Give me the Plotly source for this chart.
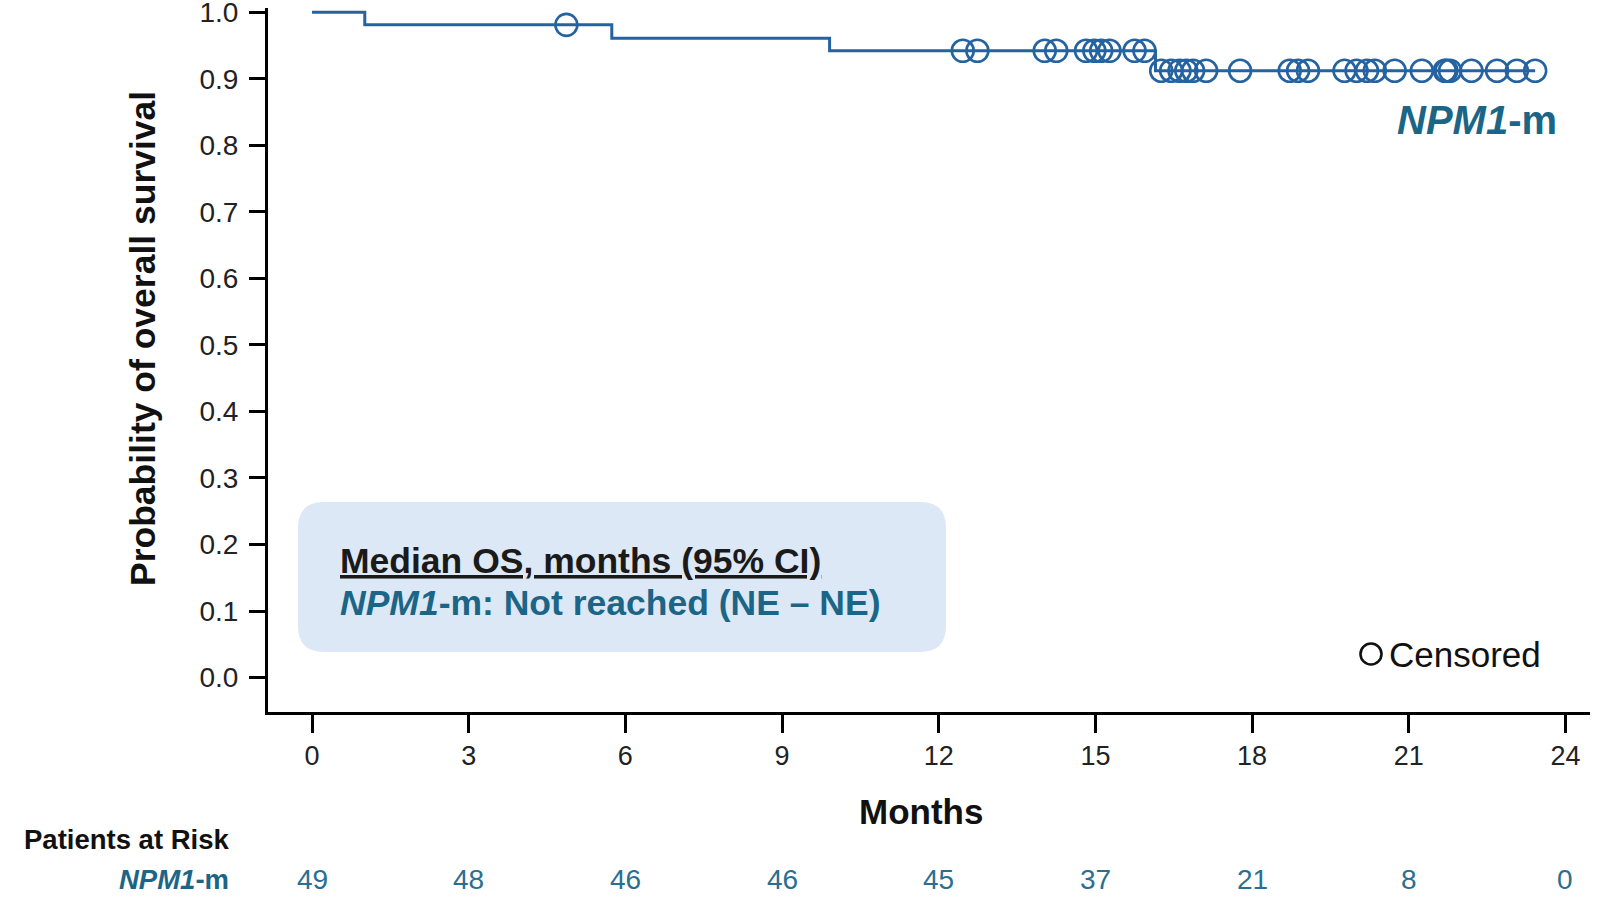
import numpy as np
import plotly.graph_objects as go

# Kaplan-Meier data
event_times = [1.01, 5.74, 9.91, 16.15]
surv_after = [0.981, 0.961, 0.942, 0.912]
censor_times = [4.87, 12.46, 12.74, 14.03, 14.25, 14.82, 14.98, 15.11, 15.27,
                15.75, 15.94, 16.26, 16.45, 16.61, 16.74, 16.87, 17.12, 17.77,
                18.72, 18.88, 19.07, 19.77, 20.00, 20.20, 20.35, 20.73, 21.25,
                21.69, 21.72, 21.79, 22.20, 22.69, 23.07, 23.42]
month_ticks = [0, 3, 6, 9, 12, 15, 18, 21, 24]
at_risk = [49, 48, 46, 46, 45, 37, 21, 8, 0]
y_ticks = [0.0, 0.1, 0.2, 0.3, 0.4, 0.5, 0.6, 0.7, 0.8, 0.9, 1.0]

BLUE = "#2563a0"
TEAL = "#1b6586"
FONT = "Liberation Sans"

# step curve
step_x = [0] + event_times + [censor_times[-1]]
step_y = [1.0] + surv_after + [surv_after[-1]]


def surv_at(t):
    idx = np.searchsorted(event_times, t, side="right")
    return 1.0 if idx == 0 else surv_after[idx - 1]


censor_y = [surv_at(t) for t in censor_times]

# page geometry in pixels (body margin is zeroed below)
W, H = 1600, 900
L, R, T, B = 268, 10, 8, 900 - 712
PH = H - T - B
PW = W - L - R


def px(x):
    return (x - L) / PW


def py(y):
    return (H - B - y) / PH


fig = go.Figure()
fig.add_trace(go.Scatter(x=step_x, y=step_y, mode="lines", line_shape="hv",
                         line=dict(color=BLUE, width=3), hoverinfo="skip"))
fig.add_trace(go.Scatter(x=censor_times, y=censor_y, mode="markers",
                         marker=dict(symbol="circle-open", size=22, color=BLUE,
                                     line=dict(width=2.6, color=BLUE))))

# rounded median box
bx0, bx1, by0, by1, r = 298, 946, 502, 652, 26
rx, ry = r / PW, r / PH
X0, X1, Y0, Y1 = px(bx0), px(bx1), py(by1), py(by0)
box_path = (f"M {X0 + rx} {Y0} L {X1 - rx} {Y0} Q {X1} {Y0} {X1} {Y0 + ry} "
            f"L {X1} {Y1 - ry} Q {X1} {Y1} {X1 - rx} {Y1} L {X0 + rx} {Y1} "
            f"Q {X0} {Y1} {X0} {Y1 - ry} L {X0} {Y0 + ry} Q {X0} {Y0} {X0 + rx} {Y0} Z")

shapes = [
    dict(type="path", xref="paper", yref="paper", path=box_path,
         fillcolor="#dce8f5", line=dict(width=0), layer="below"),
    dict(type="circle", xref="paper", yref="paper", xsizemode="pixel", ysizemode="pixel",
         xanchor=px(1371), yanchor=py(654), x0=-10.5, x1=10.5, y0=-10.5, y1=10.5,
         line=dict(color="#111111", width=2.6)),
]

annotations = [
    dict(text="<b>Probability of overall survival</b>", x=px(143), y=py(339),
         textangle=-90, font=dict(size=35.5, color="#111111")),
    dict(text="<b>Months</b>", x=px(921), y=py(811), font=dict(size=35, color="#111111")),
    dict(text="<b><i>NPM1</i>-m</b>", x=px(1559), y=py(120), xanchor="right",
         font=dict(size=40, color=TEAL)),
    dict(text="Censored", x=px(1387), y=py(654), xanchor="left",
         font=dict(size=35, color="#111111")),
    dict(text="<b><u>Median OS, months (95% CI)</u></b>", x=px(338), y=py(561),
         xanchor="left", font=dict(size=35.5, color="#1a1a1a")),
    dict(text="<b><i>NPM1</i>-m: Not reached (NE – NE)</b>", x=px(338), y=py(603),
         xanchor="left", font=dict(size=35.5, color=TEAL)),
    dict(text="<b>Patients at Risk</b>", x=px(22), y=py(839), xanchor="left",
         font=dict(size=27.5, color="#111111")),
    dict(text="<b><i>NPM1</i>-m</b>", x=px(231), y=py(879), xanchor="right",
         font=dict(size=27.5, color=TEAL)),
]
for m, n in zip(month_ticks, at_risk):
    annotations.append(dict(text=str(n), x=m, xref="x", y=py(879), yref="paper",
                            font=dict(size=28, color="#2a6f92")))
for a in annotations:
    a.setdefault("xref", "paper")
    a.setdefault("yref", "paper")
    a.setdefault("xanchor", "center")
    a["yanchor"] = "middle"
    a["showarrow"] = False

fig.update_layout(
    width=W, height=H, margin=dict(l=L, r=R, t=T, b=B),
    plot_bgcolor="white", paper_bgcolor="white", showlegend=False,
    font=dict(family=FONT, color="#222222"),
    shapes=shapes, annotations=annotations,
    xaxis=dict(range=[-0.843, 24.47], tickvals=month_ticks, showgrid=False, zeroline=False,
               showline=True, linecolor="black", linewidth=3, ticks="outside",
               ticklen=18, tickwidth=2.5, tickcolor="black", ticklabelstandoff=0,
               automargin=False, tickfont=dict(size=27, color="#222222")),
    yaxis=dict(range=[-0.0517, 1.0063], tickvals=y_ticks, tickformat=".1f", showgrid=False,
               zeroline=False, showline=True, linecolor="black", linewidth=3,
               ticks="outside", ticklen=16, tickwidth=2.5, tickcolor="black",
               ticklabelstandoff=5, ticklabeloverflow="allow", automargin=False,
               tickfont=dict(size=28, color="#222222")),
)

fig.write_html("out.html", config={"displayModeBar": False},
               post_script="document.body.style.margin = '0';")
